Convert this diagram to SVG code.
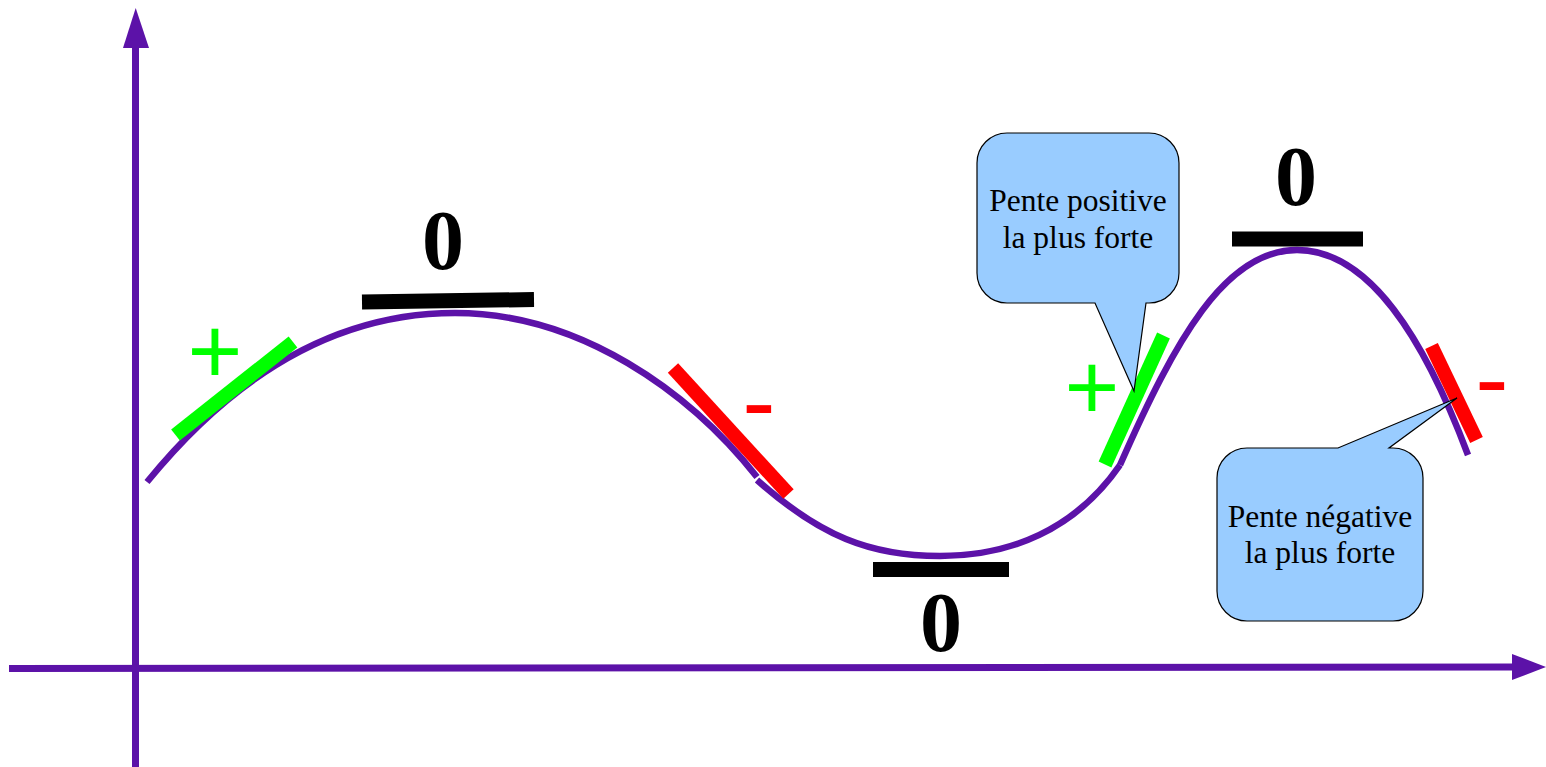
<svg xmlns="http://www.w3.org/2000/svg" width="1546" height="767" viewBox="0 0 1546 767">
<style>
.axis{stroke:#5c12a8;stroke-width:7;fill:none}
.curve{stroke:#5c12a8;stroke-width:6.5;fill:none}
.pos{stroke:#00ff00;stroke-width:14}
.neg{stroke:#ff0000;stroke-width:14}
.flat{stroke:#000;stroke-width:15}
.zero{font-family:"Liberation Serif",serif;font-weight:bold;font-size:84px;fill:#000;text-anchor:middle}
.plus{font-family:"Liberation Sans",sans-serif;font-size:94px;fill:#00ff00;text-anchor:middle}
.minus{font-family:"Liberation Sans",sans-serif;font-size:100px;fill:#ff0000;text-anchor:middle}
.bubble{fill:#99ccff;stroke:#000;stroke-width:1.2}
.label{font-family:"Liberation Serif",serif;font-size:31.5px;fill:#000;text-anchor:middle}
</style>
<rect width="1546" height="767" fill="#fff"/>
<g id="connectors">
  <line class="axis" x1="135.5" y1="767" x2="135.5" y2="44"/>
  <polygon points="135.7,8 149,48 123,48" fill="#5c12a8"/>
  <line class="axis" x1="9" y1="668.5" x2="1514" y2="667"/>
  <polygon points="1546,667 1512,680 1512,654" fill="#5c12a8"/>
</g>
<g id="curve">
  <path class="curve" d="M147,482 C230,380 330,313 455,313 C580,313 690,392 757,477"/>
  <path class="curve" d="M757,480 C820,536 870,556 940,556 C1010,556 1075,530 1120,465"/>
  <path class="curve" d="M1120,465 C1175,340 1225,250 1297,250 C1370,250 1425,340 1468,455"/>
</g>
<g id="tangents">
  <line class="pos" x1="175.5" y1="435" x2="293" y2="342"/>
  <line class="neg" x1="673" y1="368" x2="788.5" y2="494"/>
  <line class="pos" x1="1163.5" y1="335.5" x2="1105" y2="464.5"/>
  <line class="neg" x1="1431.5" y1="346" x2="1476.5" y2="440"/>
  <line class="flat" x1="362" y1="302" x2="534" y2="299.5"/>
  <line class="flat" x1="873" y1="569.5" x2="1009" y2="569.5"/>
  <line class="flat" x1="1232" y1="239" x2="1363" y2="239"/>
</g>
<g id="signs">
  <text class="zero" x="443" y="269">0</text>
  <text class="zero" x="941" y="651">0</text>
  <text class="zero" x="1296" y="205">0</text>
  <text class="plus" x="215" y="383">+</text>
  <text class="plus" x="1092" y="419">+</text>
  <text class="minus" x="759" y="436">-</text>
  <text class="minus" x="1492" y="413">-</text>
</g>
<g id="callout-positive">
  <path class="bubble" d="M1007,133 H1149 A30 30 0 0 1 1179,163 V273 A30 30 0 0 1 1149,303 H1146 L1134,391 L1095,303 H1007 A30 30 0 0 1 977,273 V163 A30 30 0 0 1 1007,133 Z"/>
  <text class="label" x="1078" y="211">Pente positive</text>
  <text class="label" x="1078" y="248">la plus forte</text>
</g>
<g id="callout-negative">
  <path class="bubble" d="M1247,448 H1338 L1457,398 L1389,448 H1393 A30 30 0 0 1 1423,478 V591 A30 30 0 0 1 1393,621 H1247 A30 30 0 0 1 1217,591 V478 A30 30 0 0 1 1247,448 Z"/>
  <text class="label" x="1320" y="527">Pente négative</text>
  <text class="label" x="1320" y="563">la plus forte</text>
</g>
</svg>
